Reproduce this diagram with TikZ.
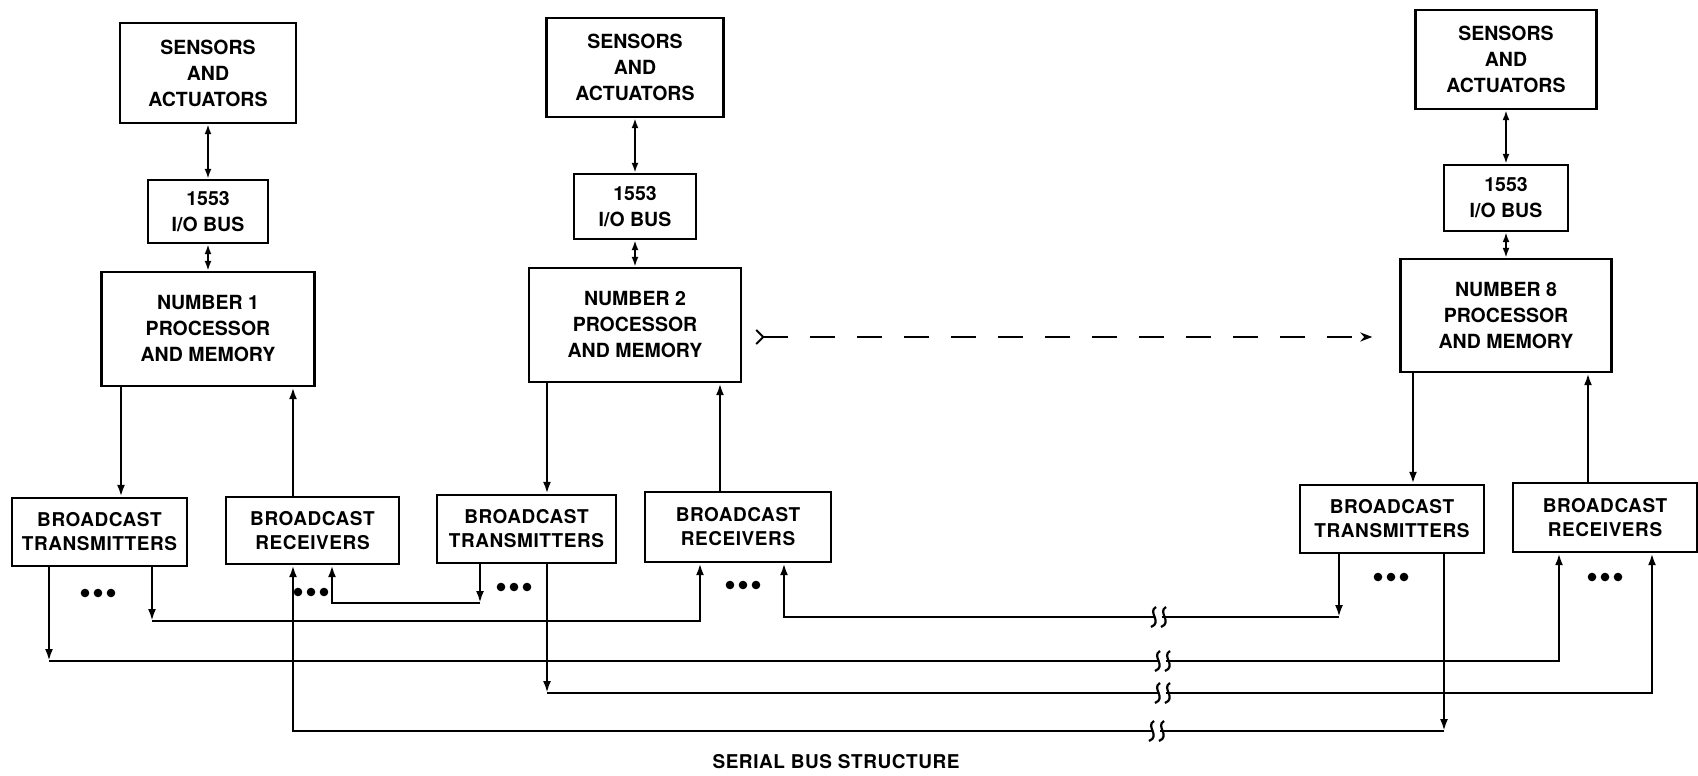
\documentclass[tikz,border=0pt]{standalone}
\usepackage{fontspec}
\setmainfont{TeX Gyre Heros}
\newfontfamily\widefont{TeX Gyre Heros}[LetterSpace=3]
\usetikzlibrary{arrows.meta,calc}
\tikzset{
  blk/.style={draw,line width=2.4pt,inner sep=0pt,align=center,font=\bfseries\fontsize{19.5}{26}\selectfont},
  bblk/.style={draw,line width=2.4pt,inner sep=0pt,align=center,font=\widefont\bfseries\fontsize{19}{24}\selectfont},
  conn/.style={line width=2.4pt},
  arr/.style={conn,-{Latex[length=12pt,width=8pt]}},
  dbl/.style={conn,{Latex[length=10pt,width=7pt]}-{Latex[length=10pt,width=7pt]}},
  brk/.pic={
    \fill[white] (-4,-3) rectangle (4,3);
    \draw[line width=2.2pt] (-2,-10) .. controls (-11,-5) and (5,5) .. (-7,10);
    \draw[line width=2.2pt] (8,-10) .. controls (-1,-5) and (15,5) .. (3,10);
  },
  dotrow/.pic={
    \foreach \i in {-13,0,13} \fill (\i,0) circle (4.3pt);
  }
}
\begin{document}
\begin{tikzpicture}[x=1pt,y=-1pt]
\useasboundingbox (0,0) rectangle (1698,776);

% column 1
\node[blk,minimum width=176pt,minimum height=100pt] (S1) at (208,73) {SENSORS\\AND\\ACTUATORS};
\node[blk,minimum width=120pt,minimum height=63pt] (B1) at (208,211.5) {1553\\I/O BUS};
\node[blk,minimum width=213pt,minimum height=114pt] (P1) at (208,329) {NUMBER 1\\PROCESSOR\\AND MEMORY};
\node[bblk,minimum width=175pt,minimum height=68pt] (T1) at (99.5,532) {BROADCAST\\TRANSMITTERS};
\node[bblk,minimum width=173pt,minimum height=67pt] (R1) at (312.5,530.5) {BROADCAST\\RECEIVERS};

% column 2
\node[blk,minimum width=177pt,minimum height=99pt] (S2) at (635,67.5) {SENSORS\\AND\\ACTUATORS};
\node[blk,minimum width=122pt,minimum height=65pt] (B2) at (635,206.5) {1553\\I/O BUS};
\node[blk,minimum width=212pt,minimum height=114pt] (P2) at (635,325) {NUMBER 2\\PROCESSOR\\AND MEMORY};
\node[bblk,minimum width=179pt,minimum height=68pt] (T2) at (526.5,529) {BROADCAST\\TRANSMITTERS};
\node[bblk,minimum width=186pt,minimum height=70pt] (R2) at (738,527) {BROADCAST\\RECEIVERS};

% column 8
\node[blk,minimum width=181pt,minimum height=99pt] (S8) at (1506,59.5) {SENSORS\\AND\\ACTUATORS};
\node[blk,minimum width=124pt,minimum height=66pt] (B8) at (1506,198) {1553\\I/O BUS};
\node[blk,minimum width=211pt,minimum height=113pt] (P8) at (1506,315.5) {NUMBER 8\\PROCESSOR\\AND MEMORY};
\node[bblk,minimum width=184pt,minimum height=68pt] (T8) at (1392,519) {BROADCAST\\TRANSMITTERS};
\node[bblk,minimum width=184pt,minimum height=69pt] (R8) at (1605,517.5) {BROADCAST\\RECEIVERS};

% vertical links
\draw[dbl] (S1) -- (B1);
\draw[dbl] (B1) -- (P1);
\draw[dbl] (S2) -- (B2);
\draw[dbl] (B2) -- (P2);
\draw[dbl] (S8) -- (B8);
\draw[dbl] (B8) -- (P8);

\coordinate (p1t) at (121,450);
\coordinate (p1r) at (293,450);
\coordinate (p2t) at (547,450);
\coordinate (p2r) at (720,450);
\coordinate (p8t) at (1413,450);
\coordinate (p8r) at (1588,450);
\draw[arr] (P1.south -| p1t) -- (T1.north -| p1t);
\draw[arr] (R1.north -| p1r) -- (P1.south -| p1r);
\draw[arr] (P2.south -| p2t) -- (T2.north -| p2t);
\draw[arr] (R2.north -| p2r) -- (P2.south -| p2r);
\draw[arr] (P8.south -| p8t) -- (T8.north -| p8t);
\draw[arr] (R8.north -| p8r) -- (P8.south -| p8r);

% dashed link
\draw[conn,dash pattern=on 25pt off 22pt,{Straight Barb[reversed,length=7pt,width=14pt,line width=2pt]}-{Stealth[length=12pt,width=9pt]}]
  ($(P2.east)+(13,12)$) -- ($(P8.west)+(-27,21.5)$);

% bus A: T1 -> R2
\coordinate (a1) at (152,621);
\coordinate (a2) at (700,621);
\draw[arr] (T1.south -| a1) -- (a1);
\draw[arr] (a1) -- (a2) -- (R2.south -| a2);

% bus C: T2 -> R1
\coordinate (c1) at (480,603);
\coordinate (c2) at (332,603);
\draw[arr] (T2.south -| c1) -- (c1);
\draw[arr] (c1) -- (c2) -- (R1.south -| c2);

% bus B: T1 -> R8
\coordinate (b1) at (49,661);
\coordinate (b2) at (1559,661);
\coordinate (kb) at (1162,661);
\draw[arr] (T1.south -| b1) -- (b1);
\draw[arr] (b1) -- (b2) -- (R8.south -| b2);
\pic at (kb) {brk};

% bus D: T2 -> R8
\coordinate (d1) at (547,693);
\coordinate (d2) at (1652,693);
\coordinate (kd) at (1162,693);
\draw[arr] (T2.south -| d1) -- (d1);
\draw[arr] (d1) -- (d2) -- (R8.south -| d2);
\pic at (kd) {brk};

% bus E: T8 -> R2
\coordinate (e1) at (1339,617);
\coordinate (e2) at (784,617);
\coordinate (ke) at (1158,617);
\draw[arr] (T8.south -| e1) -- (e1);
\draw[arr] (e1) -- (e2) -- (R2.south -| e2);
\pic at (ke) {brk};

% bus F: T8 -> R1
\coordinate (f1) at (1444,731);
\coordinate (f2) at (293,731);
\coordinate (kf) at (1156,731);
\draw[arr] (T8.south -| f1) -- (f1);
\draw[arr] (f1) -- (f2) -- (R1.south -| f2);
\pic at (kf) {brk};

% ellipsis dots
\pic at (98,593) {dotrow};
\pic at (311,592) {dotrow};
\pic at (514,587) {dotrow};
\pic at (743,585) {dotrow};
\pic at (1391,577) {dotrow};
\pic at (1605,577) {dotrow};

\node[font=\widefont\bfseries\fontsize{19}{24}\selectfont,inner sep=0pt] (cap) at (836,762) {SERIAL BUS STRUCTURE};
\end{tikzpicture}
\end{document}
